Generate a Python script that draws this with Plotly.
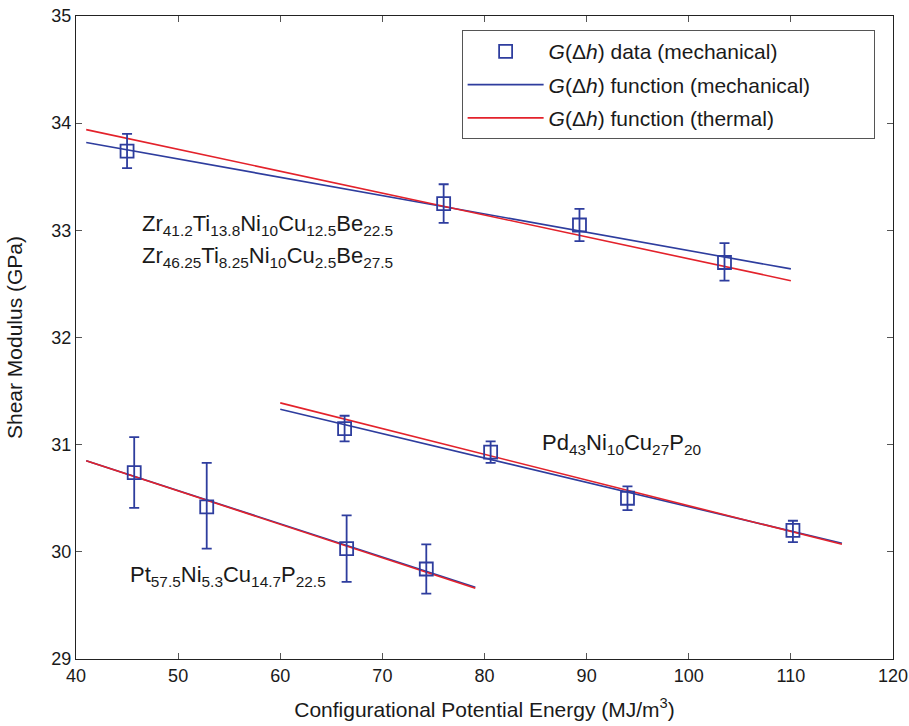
import plotly.graph_objects as go

BLUE = "#2e3d9e"
RED = "#e3222b"

# Zr-based alloys
zr_x = [45.0, 76.0, 89.3, 103.5]
zr_y = [33.74, 33.25, 33.05, 32.70]
zr_err_plus = [0.16, 0.18, 0.15, 0.18]
zr_err_minus = [0.16, 0.18, 0.15, 0.17]
zr_mech_x = [41.0, 110.0]
zr_mech_y = [33.82, 32.64]
zr_therm_x = [41.0, 110.0]
zr_therm_y = [33.94, 32.53]

# Pd-based alloy
pd_x = [66.3, 80.6, 94.0, 110.2]
pd_y = [31.15, 30.93, 30.50, 30.20]
pd_err_plus = [0.12, 0.10, 0.11, 0.09]
pd_err_minus = [0.12, 0.10, 0.11, 0.11]
pd_mech_x = [60.0, 115.0]
pd_mech_y = [31.33, 30.08]
pd_therm_x = [60.0, 115.0]
pd_therm_y = [31.39, 30.07]

# Pt-based alloy
pt_x = [45.7, 52.8, 66.5, 74.3]
pt_y = [30.74, 30.42, 30.03, 29.84]
pt_err_plus = [0.33, 0.41, 0.31, 0.23]
pt_err_minus = [0.33, 0.39, 0.31, 0.23]
pt_mech_x = [41.0, 79.1]
pt_mech_y = [30.85, 29.67]
pt_therm_x = [41.0, 79.1]
pt_therm_y = [30.85, 29.66]

x_ticks = [40, 50, 60, 70, 80, 90, 100, 110, 120]
y_ticks = [29, 30, 31, 32, 33, 34, 35]

FONT = "Liberation Sans, Arial, sans-serif"

fig = go.Figure()

groups = [
    (zr_x, zr_y, zr_err_plus, zr_err_minus, zr_mech_x, zr_mech_y, zr_therm_x, zr_therm_y),
    (pd_x, pd_y, pd_err_plus, pd_err_minus, pd_mech_x, pd_mech_y, pd_therm_x, pd_therm_y),
    (pt_x, pt_y, pt_err_plus, pt_err_minus, pt_mech_x, pt_mech_y, pt_therm_x, pt_therm_y),
]

PAD = "&nbsp;" * 10

for i, (x, y, ep, em, mx, my, tx, ty) in enumerate(groups):
    first = i == 0
    fig.add_trace(go.Scatter(
        x=mx, y=my, mode="lines", line=dict(color=BLUE, width=1.6),
        name="<i>G</i>(Δ<i>h</i>) function (mechanical)" + PAD,
        legendgroup="mech", legendrank=2, showlegend=first))
    fig.add_trace(go.Scatter(
        x=tx, y=ty, mode="lines", line=dict(color=RED, width=1.6),
        name="<i>G</i>(Δ<i>h</i>) function (thermal)",
        legendgroup="therm", legendrank=3, showlegend=first))
    fig.add_trace(go.Scatter(
        x=x, y=y, mode="markers",
        marker=dict(symbol="square-open", size=13, color=BLUE, line=dict(width=1.8, color=BLUE)),
        error_y=dict(type="data", array=ep, arrayminus=em, color=BLUE, thickness=1.8, width=5),
        name="<i>G</i>(Δ<i>h</i>) data (mechanical)",
        legendgroup="data", legendrank=1, showlegend=first))

labels = [
    (46.3, 33.05, "Zr<sub>41.2</sub>Ti<sub>13.8</sub>Ni<sub>10</sub>Cu<sub>12.5</sub>Be<sub>22.5</sub>"),
    (46.3, 32.75, "Zr<sub>46.25</sub>Ti<sub>8.25</sub>Ni<sub>10</sub>Cu<sub>2.5</sub>Be<sub>27.5</sub>"),
    (85.4, 31.01, "Pd<sub>43</sub>Ni<sub>10</sub>Cu<sub>27</sub>P<sub>20</sub>"),
    (45.1, 29.77, "Pt<sub>57.5</sub>Ni<sub>5.3</sub>Cu<sub>14.7</sub>P<sub>22.5</sub>"),
]
for lx, ly, txt in labels:
    fig.add_annotation(x=lx, y=ly, text=txt, showarrow=False, xanchor="left", yanchor="middle",
                       font=dict(size=22, color="#1a1a1a", family=FONT))

axis_common = dict(
    showgrid=False, zeroline=False, showline=True, linecolor="#222", linewidth=1.2,
    mirror="allticks", ticks="inside", ticklen=6, tickcolor="#555",
    tickfont=dict(size=18, color="#1a1a1a", family=FONT), automargin=False,
)

fig.update_layout(
    width=909, height=726,
    margin=dict(l=76, r=16, t=16, b=67),
    plot_bgcolor="white", paper_bgcolor="white",
    font=dict(family=FONT, color="#1a1a1a"),
    xaxis=dict(range=[40, 120], tickvals=x_ticks,
               title=dict(text="Configurational Potential Energy (MJ/m<sup>3</sup>)",
                          font=dict(size=21, family=FONT), standoff=17),
               **axis_common),
    yaxis=dict(range=[29, 35], tickvals=y_ticks,
               title=dict(text="Shear Modulus (GPa)", font=dict(size=21, family=FONT), standoff=22),
               **axis_common),
    legend=dict(x=0.472, y=0.978, xanchor="left", yanchor="top",
                bordercolor="#555", borderwidth=1, bgcolor="white",
                font=dict(size=21, family=FONT, color="#1a1a1a"),
                traceorder="grouped", tracegroupgap=3, itemwidth=76),
    showlegend=True,
)

fig.write_html("out.html")
